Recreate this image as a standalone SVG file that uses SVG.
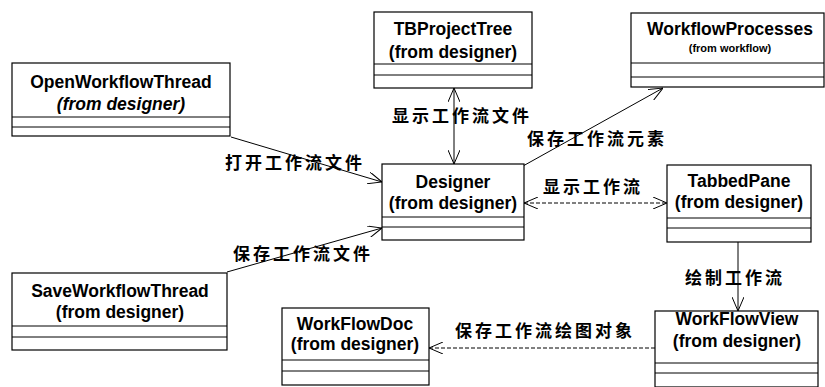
<svg xmlns="http://www.w3.org/2000/svg" width="825" height="387" viewBox="0 0 825 387">
<style>
.box{fill:#fff;stroke:#000;stroke-width:1.2}
.sep{stroke:#000;stroke-width:1}
.nm{font-family:"Liberation Sans",Arial,sans-serif;font-weight:bold;font-size:17.5px;text-anchor:middle;fill:#000}
.sm{font-family:"Liberation Sans",Arial,sans-serif;font-weight:bold;font-size:11px;text-anchor:middle;fill:#000}
.lbl{font-family:"Noto Sans CJK SC","Noto Sans CJK JP",sans-serif;font-weight:bold;font-size:17px;letter-spacing:3px;fill:#000}
.ln{fill:none;stroke:#000;stroke-width:1}
.dash{stroke-dasharray:4 2}
</style>
<defs>
<marker id="arr" viewBox="0 0 14 12" refX="14" refY="6" markerWidth="14" markerHeight="12" markerUnits="userSpaceOnUse" orient="auto-start-reverse">
<path d="M0,0 L14,6 L0,12" fill="none" stroke="#000" stroke-width="1"/>
</marker>
</defs>

<g id="connectors">
<line class="ln" x1="231" y1="137" x2="382" y2="182" marker-end="url(#arr)"/>
<line class="ln" x1="227" y1="272" x2="382" y2="228" marker-end="url(#arr)"/>
<line class="ln" x1="454" y1="88" x2="454" y2="164" marker-start="url(#arr)" marker-end="url(#arr)"/>
<line class="ln" x1="523" y1="166" x2="663" y2="88" marker-end="url(#arr)"/>
<line class="ln dash" x1="524" y1="203" x2="667" y2="203" marker-start="url(#arr)" marker-end="url(#arr)"/>
<line class="ln" x1="738" y1="242" x2="738" y2="311" marker-end="url(#arr)"/>
<line class="ln dash" x1="655" y1="348" x2="429" y2="348" marker-end="url(#arr)"/>
<text class="lbl" x="225" y="169">打开工作流文件</text>
<text class="lbl" x="233" y="260">保存工作流文件</text>
<text class="lbl" x="392" y="122">显示工作流文件</text>
<text class="lbl" x="527" y="145">保存工作流元素</text>
<text class="lbl" x="543" y="193">显示工作流</text>
<text class="lbl" x="685" y="284">绘制工作流</text>
<text class="lbl" x="455" y="337">保存工作流绘图对象</text>
</g>

<g id="OpenWorkflowThread">
<rect class="box" x="12" y="63" width="218" height="73"/>
<line class="sep" x1="12" y1="117" x2="230" y2="117"/>
<line class="sep" x1="12" y1="127" x2="230" y2="127"/>
<text class="nm" x="121" y="88">OpenWorkflowThread</text>
<text class="nm" x="121" y="110" font-style="italic">(from designer)</text>
</g>

<g id="TBProjectTree">
<rect class="box" x="374" y="12" width="158" height="76"/>
<line class="sep" x1="374" y1="64" x2="532" y2="64"/>
<line class="sep" x1="374" y1="75" x2="532" y2="75"/>
<text class="nm" x="453" y="35">TBProjectTree</text>
<text class="nm" x="453" y="58">(from designer)</text>
</g>

<g id="WorkflowProcesses">
<rect class="box" x="631" y="13" width="193" height="74"/>
<line class="sep" x1="631" y1="63" x2="824" y2="63"/>
<line class="sep" x1="631" y1="77" x2="824" y2="77"/>
<text class="nm" x="730" y="35">WorkflowProcesses</text>
<text class="sm" x="730" y="52">(from workflow)</text>
</g>

<g id="Designer">
<rect class="box" x="382" y="164" width="142" height="76"/>
<line class="sep" x1="382" y1="217" x2="524" y2="217"/>
<line class="sep" x1="382" y1="227" x2="524" y2="227"/>
<text class="nm" x="453" y="188">Designer</text>
<text class="nm" x="453" y="209">(from designer)</text>
</g>

<g id="TabbedPane">
<rect class="box" x="667" y="165" width="144" height="77"/>
<line class="sep" x1="667" y1="218" x2="811" y2="218"/>
<line class="sep" x1="667" y1="228" x2="811" y2="228"/>
<text class="nm" x="739" y="187">TabbedPane</text>
<text class="nm" x="739" y="208">(from designer)</text>
</g>

<g id="SaveWorkflowThread">
<rect class="box" x="12" y="273" width="215" height="77"/>
<line class="sep" x1="12" y1="326" x2="227" y2="326"/>
<line class="sep" x1="12" y1="337" x2="227" y2="337"/>
<text class="nm" x="120" y="297">SaveWorkflowThread</text>
<text class="nm" x="120" y="318">(from designer)</text>
</g>

<g id="WorkFlowDoc">
<rect class="box" x="282" y="308" width="147" height="77"/>
<line class="sep" x1="282" y1="360" x2="429" y2="360"/>
<line class="sep" x1="282" y1="371" x2="429" y2="371"/>
<text class="nm" x="355" y="330">WorkFlowDoc</text>
<text class="nm" x="355" y="350">(from designer)</text>
</g>

<g id="WorkFlowView">
<rect class="box" x="655" y="311" width="163" height="76"/>
<line class="sep" x1="655" y1="363" x2="818" y2="363"/>
<line class="sep" x1="655" y1="373" x2="818" y2="373"/>
<text class="nm" x="737" y="325">WorkFlowView</text>
<text class="nm" x="737" y="347">(from designer)</text>
</g>
</svg>
